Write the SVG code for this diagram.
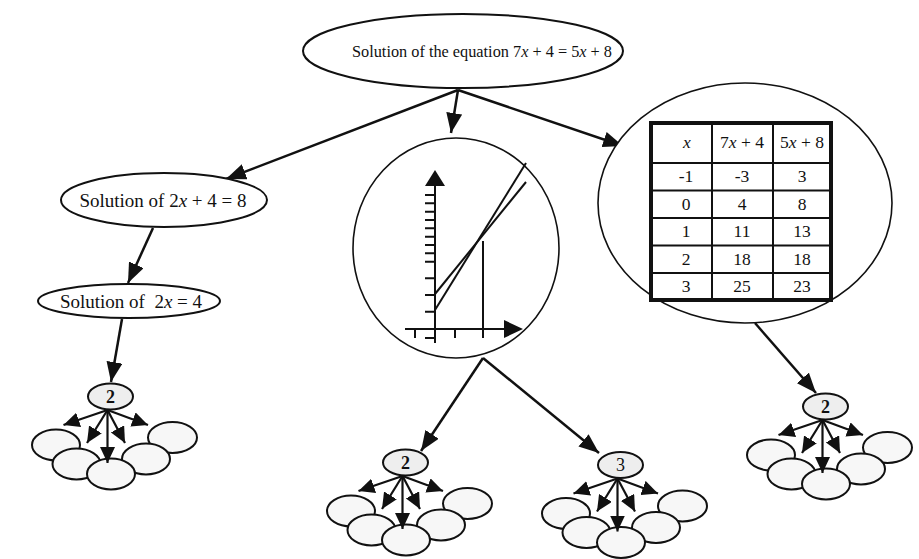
<svg xmlns="http://www.w3.org/2000/svg" width="919" height="559" viewBox="0 0 919 559">
<style>
.t{font-family:"Liberation Serif","Times New Roman",serif;fill:#111}
.i{font-style:italic}
.node{fill:#fff;stroke:#111;stroke-width:2}
.big{fill:#fff;stroke:#111;stroke-width:1.6}
.ax{stroke:#111;stroke-width:2;fill:none}
.con{stroke:#111;stroke-width:2.5;fill:none;marker-end:url(#ah)}
.sc{stroke:#111;stroke-width:2.2;fill:none;marker-end:url(#sh)}
.top{fill:#eeeeee;stroke:#111;stroke-width:2}
.bot{fill:#f7f7f7;stroke:#111;stroke-width:2}
</style>
<defs>
<marker id="ah" viewBox="0 0 10 10" refX="10" refY="5" markerUnits="userSpaceOnUse" markerWidth="20" markerHeight="16" orient="auto" preserveAspectRatio="none"><path d="M0,0 L10,5 L0,10 z" fill="#111"/></marker>
<marker id="sh" viewBox="0 0 10 10" refX="10" refY="5" markerUnits="userSpaceOnUse" markerWidth="16" markerHeight="15" orient="auto" preserveAspectRatio="none"><path d="M0,0 L10,5 L0,10 z" fill="#111"/></marker>
<g id="fan">
<ellipse class="bot" cx="-54.5" cy="48.5" rx="24" ry="15.5"/>
<ellipse class="bot" cx="62" cy="41" rx="24.5" ry="15.5"/>
<ellipse class="bot" cx="-34" cy="67.5" rx="24" ry="15.5"/>
<ellipse class="bot" cx="35.5" cy="62.5" rx="24" ry="15.5"/>
<ellipse class="bot" cx="0.5" cy="77.5" rx="24" ry="15.5"/>
<ellipse class="top" cx="0" cy="0" rx="22.5" ry="13"/>
<path class="sc" d="M-3,13.5 L-47,28.5"/>
<path class="sc" d="M-3,13.5 L-23.5,46.5"/>
<path class="sc" d="M-3,13.5 L-3,66.5"/>
<path class="sc" d="M-3,13.5 L14.5,46.5"/>
<path class="sc" d="M-3,13.5 L37.5,28.5"/>
</g>
</defs>
<rect width="919" height="559" fill="#fff"/>

<g id="connectors">
<path class="con" d="M458,90 L226,179"/>
<path class="con" d="M458,90 L451,133"/>
<path class="con" d="M458,90 L623,146"/>
<path class="con" d="M153,228 L128,283"/>
<path class="con" d="M122,319 L111,382"/>
<path class="con" d="M483,358 L421,451"/>
<path class="con" d="M483,358 L599,453"/>
<path class="con" d="M755,323 L816,393"/>
</g>

<g id="n-root">
<ellipse class="node" cx="463" cy="51" rx="160" ry="37"/>
<text class="t" x="352" y="57" font-size="16.3">Solution of the equation 7<tspan class="i">x</tspan> + 4 = 5<tspan class="i">x</tspan> + 8</text>
</g>

<g id="n-eq1">
<ellipse class="node" cx="164" cy="200" rx="103" ry="27"/>
<text class="t" x="163" y="207" font-size="19" text-anchor="middle">Solution of 2<tspan class="i">x</tspan> + 4 = 8</text>
</g>

<g id="n-eq2">
<ellipse class="node" cx="129" cy="301" rx="91" ry="17"/>
<text class="t" x="131" y="308" font-size="19" text-anchor="middle">Solution of&#160; 2<tspan class="i">x</tspan> = 4</text>
</g>

<g id="n-graph">
<ellipse class="big" cx="456" cy="248" rx="103" ry="110"/>
<path class="ax" d="M435,343 L435,184"/>
<path d="M425,186 L435,170 L445,186 z" fill="#111"/>
<path class="ax" d="M405,329 L506,329"/>
<path d="M504,320 L523,329 L504,338 z" fill="#111"/>
<path class="ax" d="M425,195 H435 M425,203.3 H435 M425,211.7 H435 M425,220 H435 M425,228.3 H435 M425,236.7 H435 M425,245 H435 M425,253.3 H435 M425,261.7 H435 M425,278.3 H435 M425,295 H435 M425,311.7 H435 M425,338 H435"/>
<path class="ax" d="M415,329 V338 M455,329 V338 M483,329 V338"/>
<path class="ax" d="M483,329 L483,241"/>
<path class="ax" d="M435,310 L526,163"/>
<path class="ax" d="M435,294 L526,182"/>
</g>

<g id="n-table">
<ellipse class="big" cx="745" cy="203" rx="147" ry="120"/>
<rect x="651" y="123" width="180" height="177" fill="#fff" stroke="#111" stroke-width="4"/>
<path stroke="#111" stroke-width="2" fill="none" d="M712,123 V300 M773,123 V300 M651,163 H831 M651,190.5 H831 M651,218 H831 M651,245.5 H831 M651,273 H831"/>
<g class="t" font-size="17.5" text-anchor="middle">
<text x="687" y="148" class="t i">x</text>
<text x="742" y="148">7<tspan class="i">x</tspan> + 4</text>
<text x="802" y="148">5<tspan class="i">x</tspan> + 8</text>
<text x="686" y="182">-1</text><text x="742" y="182">-3</text><text x="802" y="182">3</text>
<text x="686" y="210">0</text><text x="742" y="210">4</text><text x="802" y="210">8</text>
<text x="686" y="237">1</text><text x="742" y="237">11</text><text x="802" y="237">13</text>
<text x="686" y="265">2</text><text x="742" y="265">18</text><text x="802" y="265">18</text>
<text x="686" y="292">3</text><text x="742" y="292">25</text><text x="802" y="292">23</text>
</g>
</g>

<g id="n-c1" transform="translate(110.5,396.5)">
<use href="#fan"/>
<text class="t" x="0" y="6" font-size="18" font-weight="bold" text-anchor="middle">2</text>
</g>
<g id="n-c2" transform="translate(405.5,462.5)">
<use href="#fan"/>
<text class="t" x="0" y="6" font-size="18" font-weight="bold" text-anchor="middle">2</text>
</g>
<g id="n-c3" transform="translate(620.5,465)">
<use href="#fan"/>
<text class="t" x="0" y="6" font-size="18" text-anchor="middle">3</text>
</g>
<g id="n-c4" transform="translate(825.5,406.5)">
<use href="#fan"/>
<text class="t" x="0" y="6" font-size="18" font-weight="bold" text-anchor="middle">2</text>
</g>
</svg>
